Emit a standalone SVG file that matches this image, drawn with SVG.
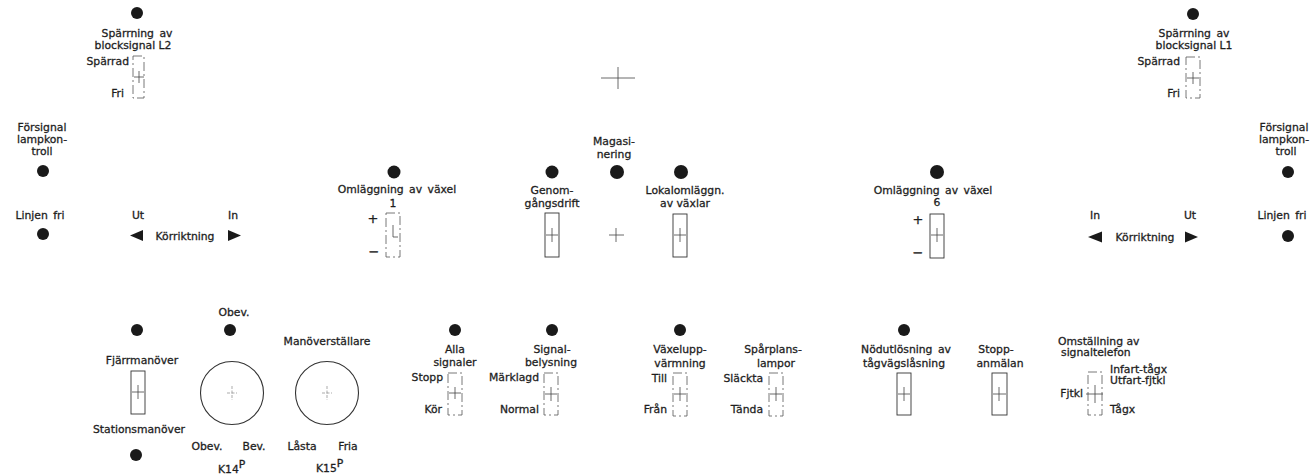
<svg xmlns="http://www.w3.org/2000/svg" width="1312" height="476" viewBox="0 0 1312 476">
<style>
text{font-family:"DejaVu Sans","Liberation Sans",sans-serif;font-size:10.8px;fill:#1e1e1e;stroke:#1e1e1e;stroke-width:0.3}
.m{text-anchor:middle}
.e{text-anchor:end}
.lamp{fill:#1a1a1a}
.box{fill:none;stroke:#333;stroke-width:0.9}
.dbox{fill:none;stroke:#555;stroke-width:0.8;stroke-dasharray:9 3 2 3}
.x{stroke:#444;stroke-width:0.8;fill:none}
.fx{stroke:#888;stroke-width:0.7;fill:none;stroke-dasharray:3 1.5}
.ring{fill:none;stroke:#333;stroke-width:1.1}
.tri{fill:#1a1a1a}
</style>
<rect width="1312" height="476" fill="#ffffff"/>
<g id="connectors"/>

<g id="sparrning-l2">
<circle class="lamp" cx="137" cy="13" r="6"/>
<text class="m" x="137" y="37" word-spacing="2">Spärrning av</text>
<text class="m" x="133" y="49">blocksignal L2</text>
<text class="e" x="129" y="65">Spärrad</text>
<text class="e" x="124" y="97">Fri</text>
<rect class="dbox" x="133" y="56" width="11" height="42"/>
<path class="x" d="M134 77H144M139 71V83"/>
</g>

<g id="forsignal-left">
<text class="m" x="42" y="131">Försignal</text>
<text class="m" x="42" y="143">lampkon-</text>
<text class="m" x="42" y="155">troll</text>
<circle class="lamp" cx="43" cy="171" r="6"/>
</g>

<g id="linjen-fri-left">
<text class="m" x="40" y="219" word-spacing="2">Linjen fri</text>
<circle class="lamp" cx="43" cy="234" r="6"/>
</g>

<g id="korriktning-left">
<text class="m" x="138" y="219">Ut</text>
<text class="m" x="233" y="219">In</text>
<path class="tri" d="M130 235.5L143 230V241Z"/>
<text class="m" x="185" y="240">Körriktning</text>
<path class="tri" d="M241 235.5L228 230V241Z"/>
</g>

<g id="mid-cross-top">
<path class="x" d="M601 78H635M618 67V89"/>
</g>

<g id="omlaggning-1">
<circle class="lamp" cx="394" cy="172" r="6.5"/>
<text class="m" x="397" y="193" word-spacing="2">Omläggning av växel</text>
<text class="m" x="393" y="207">1</text>
<text class="m" x="373" y="223" style="font-size:13px">+</text>
<text class="m" x="374" y="256" style="font-size:13px">−</text>
<rect class="dbox" x="386" y="213" width="14" height="44"/>
<path class="x" d="M393 225V237H398"/>
</g>

<g id="genomgangsdrift">
<circle class="lamp" cx="552" cy="172" r="6.5"/>
<text class="m" x="552" y="194">Genom-</text>
<text class="m" x="552" y="207">gångsdrift</text>
<rect class="box" x="545" y="213" width="14" height="44"/>
<path class="x" d="M546 235H558M552 228V242"/>
</g>

<g id="magasinering">
<text class="m" x="614" y="145">Magasi-</text>
<text class="m" x="614" y="158">nering</text>
<circle class="lamp" cx="617" cy="172" r="7"/>
<path class="x" d="M609 235H624M616 228V242"/>
</g>

<g id="lokalomlaggn">
<circle class="lamp" cx="681" cy="172" r="7"/>
<text class="m" x="685" y="194">Lokalomläggn.</text>
<text class="m" x="685" y="207">av växlar</text>
<rect class="box" x="673" y="214" width="14" height="43"/>
<path class="x" d="M674 235H686M680 228V242"/>
</g>

<g id="omlaggning-6">
<circle class="lamp" cx="937" cy="172" r="7"/>
<text class="m" x="933" y="194" word-spacing="2">Omläggning av växel</text>
<text class="m" x="937" y="206">6</text>
<text class="m" x="918" y="224" style="font-size:13px">+</text>
<text class="m" x="918" y="257" style="font-size:13px">−</text>
<rect class="box" x="930" y="214" width="14" height="44"/>
<path class="x" d="M931 235H943M937 228V242"/>
</g>

<g id="sparrning-l1">
<circle class="lamp" cx="1193" cy="14" r="6"/>
<text class="m" x="1194" y="37" word-spacing="2">Spärrning av</text>
<text class="m" x="1194" y="49">blocksignal L1</text>
<text class="e" x="1180" y="65">Spärrad</text>
<text class="e" x="1180" y="97">Fri</text>
<rect class="dbox" x="1186" y="57" width="14" height="41"/>
<path class="x" d="M1187 78H1199M1193 72V84"/>
</g>

<g id="forsignal-right">
<text class="m" x="1284" y="131">Försignal</text>
<text class="m" x="1284" y="143">lampkon-</text>
<text class="m" x="1286" y="155">troll</text>
<circle class="lamp" cx="1288" cy="172" r="6"/>
</g>

<g id="linjen-fri-right">
<text class="m" x="1282" y="219" word-spacing="2">Linjen fri</text>
<circle class="lamp" cx="1288" cy="236" r="6"/>
</g>

<g id="korriktning-right">
<text class="m" x="1095" y="219">In</text>
<text class="m" x="1190" y="219">Ut</text>
<path class="tri" d="M1088 237L1102 231.5V242.5Z"/>
<text class="m" x="1145" y="241">Körriktning</text>
<path class="tri" d="M1198 237L1185 231.5V242.5Z"/>
</g>

<g id="fjarrmanover">
<circle class="lamp" cx="137" cy="330" r="6"/>
<text class="m" x="142" y="364">Fjärrmanöver</text>
<rect class="box" x="131" y="371" width="14" height="43"/>
<path class="x" d="M132 392H144M138 385V399"/>
<text class="m" x="139" y="433">Stationsmanöver</text>
<circle class="lamp" cx="136" cy="455" r="6"/>
</g>

<g id="k14">
<text class="m" x="234" y="316">Obev.</text>
<circle class="lamp" cx="230" cy="330" r="6"/>
<circle class="ring" cx="232" cy="393" r="31.5"/>
<path class="fx" d="M227 393H237M232 386V400"/>
<text class="m" x="207" y="450">Obev.</text>
<text class="m" x="254" y="450">Bev.</text>
<text x="218" y="473">K14<tspan dy="-5">P</tspan></text>
</g>

<g id="k15">
<text class="m" x="327" y="345">Manöverställare</text>
<circle class="ring" cx="327" cy="393" r="31.5"/>
<path class="fx" d="M322 393H332M327 386V400"/>
<text class="m" x="302" y="450">Låsta</text>
<text class="m" x="348" y="450">Fria</text>
<text x="316" y="472">K15<tspan dy="-5">P</tspan></text>
</g>

<g id="alla-signaler">
<circle class="lamp" cx="455" cy="330" r="6"/>
<text class="m" x="455" y="353">Alla</text>
<text class="m" x="455" y="366">signaler</text>
<text class="e" x="443" y="381">Stopp</text>
<text class="e" x="442" y="413">Kör</text>
<rect class="dbox" x="448" y="373" width="14" height="42"/>
<path class="x" d="M449 393H461M455 387V399"/>
</g>

<g id="signalbelysning">
<circle class="lamp" cx="552" cy="330" r="6"/>
<text class="m" x="552" y="353">Signal-</text>
<text class="m" x="551" y="366">belysning</text>
<text class="e" x="539" y="381">Märklagd</text>
<text class="e" x="539" y="413">Normal</text>
<rect class="dbox" x="544" y="373" width="14" height="42"/>
<path class="x" d="M545 394H557M551 387V401"/>
</g>

<g id="vaxeluppvarmning">
<circle class="lamp" cx="680" cy="330" r="6"/>
<text class="m" x="680" y="353">Växelupp-</text>
<text class="m" x="680" y="367">värmning</text>
<text class="e" x="667" y="382">Till</text>
<text class="e" x="667" y="413">Från</text>
<rect class="dbox" x="673" y="373" width="14" height="43"/>
<path class="x" d="M674 394H686M680 387V401"/>
</g>

<g id="sparplanslampor">
<text class="m" x="773" y="353">Spårplans-</text>
<text class="m" x="776" y="367">lampor</text>
<text class="e" x="763" y="382">Släckta</text>
<text class="e" x="763" y="413">Tända</text>
<rect class="dbox" x="769" y="373" width="14" height="43"/>
<path class="x" d="M770 394H782M776 387V401"/>
</g>

<g id="nodutlosning">
<circle class="lamp" cx="904" cy="330" r="6"/>
<text class="m" x="906" y="353" word-spacing="2">Nödutlösning av</text>
<text class="m" x="904" y="367">tågvägslåsning</text>
<rect class="box" x="897" y="373" width="14" height="42"/>
<path class="x" d="M898 394H910M904 387V401"/>
</g>

<g id="stoppanmalan">
<text class="m" x="996" y="353">Stopp-</text>
<text class="m" x="1000" y="367">anmälan</text>
<rect class="box" x="992" y="373" width="15" height="42"/>
<path class="x" d="M993 394H1006M999 387V401"/>
</g>

<g id="omstallning">
<text x="1058" y="345">Omställning av</text>
<text x="1061" y="356">signaltelefon</text>
<text x="1110" y="373">Infart-tågx</text>
<text x="1110" y="384">Utfart-fjtkl</text>
<text class="e" x="1083" y="397">Fjtkl</text>
<text x="1110" y="413">Tågx</text>
<rect class="dbox" x="1088" y="372" width="14" height="43"/>
<path class="x" d="M1086 394H1103M1095 385V403"/>
</g>
</svg>
